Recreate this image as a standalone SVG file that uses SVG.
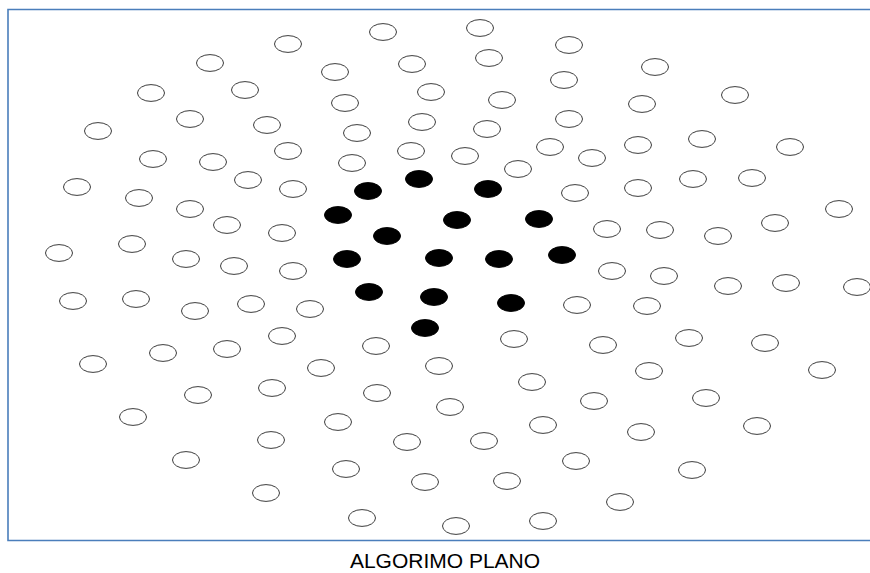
<svg xmlns="http://www.w3.org/2000/svg" xmlns:xlink="http://www.w3.org/1999/xlink" width="870" height="573" viewBox="0 0 870 573">
  <style>
    .frame { fill: none; stroke: #4a7ebb; stroke-width: 1.6; }
    .o { fill: #ffffff; stroke: #3c3c3c; stroke-width: 1; }
    .f { fill: #000000; stroke: #000000; stroke-width: 1; }
    .caption { font-family: "Liberation Sans", Arial, sans-serif; font-size: 21px; fill: #000000; }
  </style>
  <defs>
    <ellipse id="dot" cx="0" cy="0" rx="13.5" ry="8.4"/>
  </defs>
  <rect width="870" height="573" fill="#ffffff"/>
  <!-- plane frame (open on the right) -->
  <path class="frame" d="M 872 9.5 H 8 V 540.5 H 872"/>

  <!-- empty points -->
  <g id="points">
    <g id="p1"><use xlink:href="#dot" class="o" x="383" y="32"/></g>
    <g id="p2"><use xlink:href="#dot" class="o" x="480" y="28"/></g>
    <g id="p3"><use xlink:href="#dot" class="o" x="288" y="44"/></g>
    <g id="p4"><use xlink:href="#dot" class="o" x="569" y="45"/></g>
    <g id="p5"><use xlink:href="#dot" class="o" x="210" y="63"/></g>
    <g id="p6"><use xlink:href="#dot" class="o" x="335" y="72"/></g>
    <g id="p7"><use xlink:href="#dot" class="o" x="412" y="64"/></g>
    <g id="p8"><use xlink:href="#dot" class="o" x="489" y="58"/></g>
    <g id="p9"><use xlink:href="#dot" class="o" x="655" y="67"/></g>
    <g id="p10"><use xlink:href="#dot" class="o" x="151" y="93"/></g>
    <g id="p11"><use xlink:href="#dot" class="o" x="245" y="90"/></g>
    <g id="p12"><use xlink:href="#dot" class="o" x="345" y="103"/></g>
    <g id="p13"><use xlink:href="#dot" class="o" x="431" y="92"/></g>
    <g id="p14"><use xlink:href="#dot" class="o" x="502" y="100"/></g>
    <g id="p15"><use xlink:href="#dot" class="o" x="564" y="80"/></g>
    <g id="p16"><use xlink:href="#dot" class="o" x="642" y="104"/></g>
    <g id="p17"><use xlink:href="#dot" class="o" x="735" y="95"/></g>
    <g id="p18"><use xlink:href="#dot" class="o" x="98" y="131"/></g>
    <g id="p19"><use xlink:href="#dot" class="o" x="190" y="119"/></g>
    <g id="p20"><use xlink:href="#dot" class="o" x="267" y="125"/></g>
    <g id="p21"><use xlink:href="#dot" class="o" x="357" y="133"/></g>
    <g id="p22"><use xlink:href="#dot" class="o" x="422" y="122"/></g>
    <g id="p23"><use xlink:href="#dot" class="o" x="487" y="129"/></g>
    <g id="p24"><use xlink:href="#dot" class="o" x="569" y="119"/></g>
    <g id="p25"><use xlink:href="#dot" class="o" x="638" y="145"/></g>
    <g id="p26"><use xlink:href="#dot" class="o" x="702" y="139"/></g>
    <g id="p27"><use xlink:href="#dot" class="o" x="790" y="147"/></g>
    <g id="p28"><use xlink:href="#dot" class="o" x="153" y="159"/></g>
    <g id="p29"><use xlink:href="#dot" class="o" x="213" y="162"/></g>
    <g id="p30"><use xlink:href="#dot" class="o" x="288" y="151"/></g>
    <g id="p31"><use xlink:href="#dot" class="o" x="411" y="151"/></g>
    <g id="p32"><use xlink:href="#dot" class="o" x="465" y="156"/></g>
    <g id="p33"><use xlink:href="#dot" class="o" x="550" y="147"/></g>
    <g id="p34"><use xlink:href="#dot" class="o" x="592" y="158"/></g>
    <g id="p35"><use xlink:href="#dot" class="o" x="77" y="187"/></g>
    <g id="p36"><use xlink:href="#dot" class="o" x="248" y="180"/></g>
    <g id="p37"><use xlink:href="#dot" class="o" x="293" y="189"/></g>
    <g id="p38"><use xlink:href="#dot" class="o" x="352" y="163"/></g>
    <g id="p39"><use xlink:href="#dot" class="o" x="518" y="169"/></g>
    <g id="p40"><use xlink:href="#dot" class="o" x="575" y="193"/></g>
    <g id="p41"><use xlink:href="#dot" class="o" x="638" y="188"/></g>
    <g id="p42"><use xlink:href="#dot" class="o" x="693" y="179"/></g>
    <g id="p43"><use xlink:href="#dot" class="o" x="752" y="178"/></g>
    <g id="p44"><use xlink:href="#dot" class="o" x="139" y="198"/></g>
    <g id="p45"><use xlink:href="#dot" class="o" x="190" y="209"/></g>
    <g id="p46"><use xlink:href="#dot" class="o" x="227" y="225"/></g>
    <g id="p47"><use xlink:href="#dot" class="o" x="282" y="233"/></g>
    <g id="p48"><use xlink:href="#dot" class="o" x="839" y="209"/></g>
    <g id="p49"><use xlink:href="#dot" class="o" x="607" y="229"/></g>
    <g id="p50"><use xlink:href="#dot" class="o" x="660" y="230"/></g>
    <g id="p51"><use xlink:href="#dot" class="o" x="718" y="236"/></g>
    <g id="p52"><use xlink:href="#dot" class="o" x="775" y="223"/></g>
    <g id="p53"><use xlink:href="#dot" class="o" x="132" y="244"/></g>
    <g id="p54"><use xlink:href="#dot" class="o" x="59" y="253"/></g>
    <g id="p55"><use xlink:href="#dot" class="o" x="186" y="259"/></g>
    <g id="p56"><use xlink:href="#dot" class="o" x="234" y="266"/></g>
    <g id="p57"><use xlink:href="#dot" class="o" x="293" y="271"/></g>
    <g id="p58"><use xlink:href="#dot" class="o" x="612" y="271"/></g>
    <g id="p59"><use xlink:href="#dot" class="o" x="664" y="276"/></g>
    <g id="p60"><use xlink:href="#dot" class="o" x="728" y="286"/></g>
    <g id="p61"><use xlink:href="#dot" class="o" x="786" y="283"/></g>
    <g id="p62"><use xlink:href="#dot" class="o" x="857" y="287"/></g>
    <g id="p63"><use xlink:href="#dot" class="o" x="73" y="301"/></g>
    <g id="p64"><use xlink:href="#dot" class="o" x="136" y="299"/></g>
    <g id="p65"><use xlink:href="#dot" class="o" x="195" y="311"/></g>
    <g id="p66"><use xlink:href="#dot" class="o" x="251" y="304"/></g>
    <g id="p67"><use xlink:href="#dot" class="o" x="310" y="309"/></g>
    <g id="p68"><use xlink:href="#dot" class="o" x="577" y="305"/></g>
    <g id="p69"><use xlink:href="#dot" class="o" x="647" y="306"/></g>
    <g id="p70"><use xlink:href="#dot" class="o" x="282" y="336"/></g>
    <g id="p71"><use xlink:href="#dot" class="o" x="376" y="346"/></g>
    <g id="p72"><use xlink:href="#dot" class="o" x="514" y="339"/></g>
    <g id="p73"><use xlink:href="#dot" class="o" x="603" y="345"/></g>
    <g id="p74"><use xlink:href="#dot" class="o" x="689" y="338"/></g>
    <g id="p75"><use xlink:href="#dot" class="o" x="765" y="343"/></g>
    <g id="p76"><use xlink:href="#dot" class="o" x="93" y="364"/></g>
    <g id="p77"><use xlink:href="#dot" class="o" x="163" y="353"/></g>
    <g id="p78"><use xlink:href="#dot" class="o" x="227" y="349"/></g>
    <g id="p79"><use xlink:href="#dot" class="o" x="321" y="368"/></g>
    <g id="p80"><use xlink:href="#dot" class="o" x="439" y="366"/></g>
    <g id="p81"><use xlink:href="#dot" class="o" x="532" y="382"/></g>
    <g id="p82"><use xlink:href="#dot" class="o" x="649" y="371"/></g>
    <g id="p83"><use xlink:href="#dot" class="o" x="822" y="370"/></g>
    <g id="p84"><use xlink:href="#dot" class="o" x="272" y="388"/></g>
    <g id="p85"><use xlink:href="#dot" class="o" x="198" y="395"/></g>
    <g id="p86"><use xlink:href="#dot" class="o" x="377" y="393"/></g>
    <g id="p87"><use xlink:href="#dot" class="o" x="450" y="407"/></g>
    <g id="p88"><use xlink:href="#dot" class="o" x="594" y="401"/></g>
    <g id="p89"><use xlink:href="#dot" class="o" x="706" y="398"/></g>
    <g id="p90"><use xlink:href="#dot" class="o" x="133" y="417"/></g>
    <g id="p91"><use xlink:href="#dot" class="o" x="338" y="422"/></g>
    <g id="p92"><use xlink:href="#dot" class="o" x="543" y="425"/></g>
    <g id="p93"><use xlink:href="#dot" class="o" x="641" y="432"/></g>
    <g id="p94"><use xlink:href="#dot" class="o" x="757" y="426"/></g>
    <g id="p95"><use xlink:href="#dot" class="o" x="271" y="440"/></g>
    <g id="p96"><use xlink:href="#dot" class="o" x="407" y="442"/></g>
    <g id="p97"><use xlink:href="#dot" class="o" x="484" y="441"/></g>
    <g id="p98"><use xlink:href="#dot" class="o" x="186" y="460"/></g>
    <g id="p99"><use xlink:href="#dot" class="o" x="346" y="469"/></g>
    <g id="p100"><use xlink:href="#dot" class="o" x="576" y="461"/></g>
    <g id="p101"><use xlink:href="#dot" class="o" x="692" y="470"/></g>
    <g id="p102"><use xlink:href="#dot" class="o" x="425" y="482"/></g>
    <g id="p103"><use xlink:href="#dot" class="o" x="507" y="481"/></g>
    <g id="p104"><use xlink:href="#dot" class="o" x="266" y="493"/></g>
    <g id="p105"><use xlink:href="#dot" class="o" x="620" y="502"/></g>
    <g id="p106"><use xlink:href="#dot" class="o" x="362" y="518"/></g>
    <g id="p107"><use xlink:href="#dot" class="o" x="456" y="526"/></g>
    <g id="p108"><use xlink:href="#dot" class="o" x="543" y="521"/></g>
  </g>

  <!-- filled points (central cluster) -->
  <g id="cluster">
    <g id="c1"><use xlink:href="#dot" class="f" x="419" y="179"/></g>
    <g id="c2"><use xlink:href="#dot" class="f" x="368" y="191"/></g>
    <g id="c3"><use xlink:href="#dot" class="f" x="488" y="189"/></g>
    <g id="c4"><use xlink:href="#dot" class="f" x="338" y="215"/></g>
    <g id="c5"><use xlink:href="#dot" class="f" x="457" y="220"/></g>
    <g id="c6"><use xlink:href="#dot" class="f" x="539" y="219"/></g>
    <g id="c7"><use xlink:href="#dot" class="f" x="387" y="236"/></g>
    <g id="c8"><use xlink:href="#dot" class="f" x="347" y="259"/></g>
    <g id="c9"><use xlink:href="#dot" class="f" x="439" y="258"/></g>
    <g id="c10"><use xlink:href="#dot" class="f" x="499" y="259"/></g>
    <g id="c11"><use xlink:href="#dot" class="f" x="562" y="255"/></g>
    <g id="c12"><use xlink:href="#dot" class="f" x="369" y="292"/></g>
    <g id="c13"><use xlink:href="#dot" class="f" x="434" y="297"/></g>
    <g id="c14"><use xlink:href="#dot" class="f" x="511" y="303"/></g>
    <g id="c15"><use xlink:href="#dot" class="f" x="425" y="328"/></g>
  </g>

  <text class="caption" x="445" y="568" text-anchor="middle">ALGORIMO PLANO</text>
</svg>
